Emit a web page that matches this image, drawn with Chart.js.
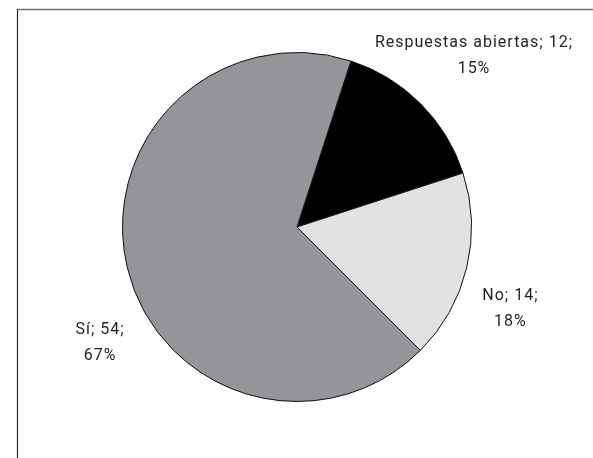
<!DOCTYPE html>
<html>
<head>
<meta charset="utf-8">
<script src="https://cdn.jsdelivr.net/npm/chart.js@4"></script>
<style>
  html, body { margin: 0; padding: 0; background: #fff; }
  #wrap { width: 593px; height: 458px; position: relative; }
</style>
</head>
<body>
<div id="wrap"><canvas id="pieChart" width="593" height="458"></canvas></div>
<script>
const categories = ["Respuestas abiertas", "No", "Sí"];
const answerCounts = [12, 14, 54];
const percentLabels = ["15%", "18%", "67%"];
const sliceColors = ["#000000", "#e1e2e4", "#939598"];

// where each label sits: angle shift from the slice middle (deg) and distance from centre (in radii)
const labelPlacement = [
  { shift: 1, dist: 1.41 },
  { shift: 7.5, dist: 1.31 },
  { shift: -17, dist: 1.31 }
];

const framePlugin = {
  id: "frame",
  beforeDraw(chart) {
    const c = chart.ctx;
    c.save();
    c.strokeStyle = "#6f6f6f";
    c.lineWidth = 1.5;
    c.beginPath();
    c.moveTo(17, 9.5);
    c.lineTo(chart.width, 9.5);
    c.stroke();
    c.strokeStyle = "#2a2a2a";
    c.lineWidth = 1.2;
    c.beginPath();
    c.moveTo(17.5, 9);
    c.lineTo(17.5, chart.height);
    c.stroke();
    c.restore();
  }
};

const sliceLabels = {
  id: "sliceLabels",
  afterDatasetsDraw(chart) {
    const c = chart.ctx;
    const meta = chart.getDatasetMeta(0);
    c.save();
    c.font = "16px Roboto, 'DejaVu Sans', sans-serif";
    c.letterSpacing = "1px";
    c.fillStyle = "#231f20";
    c.textAlign = "center";
    c.textBaseline = "middle";
    meta.data.forEach((arc, i) => {
      const p = labelPlacement[i];
      const mid = (arc.startAngle + arc.endAngle) / 2 + p.shift * Math.PI / 180;
      const r = arc.outerRadius * p.dist;
      const x = arc.x + Math.cos(mid) * r;
      const y = arc.y + Math.sin(mid) * r;
      c.fillText(categories[i] + "; " + answerCounts[i] + ";", x, y - 13);
      c.fillText(percentLabels[i], x, y + 13);
    });
    c.restore();
  }
};

new Chart(document.getElementById("pieChart"), {
  type: "pie",
  data: {
    labels: categories,
    datasets: [{
      data: answerCounts,
      backgroundColor: sliceColors,
      borderColor: "#111111",
      borderWidth: 1
    }]
  },
  options: {
    responsive: false,
    animation: false,
    rotation: 18,
    layout: { padding: { top: 52, bottom: 56, left: 122, right: 121 } },
    plugins: {
      legend: { display: false },
      tooltip: { enabled: false }
    }
  },
  plugins: [framePlugin, sliceLabels]
});
</script>
</body>
</html>
